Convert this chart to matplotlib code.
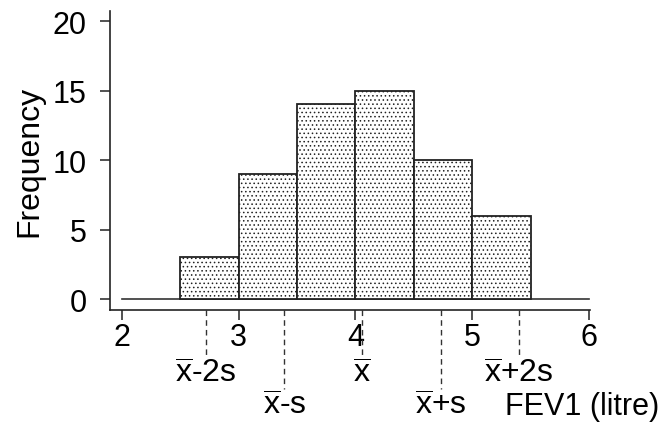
import numpy as np
import matplotlib
matplotlib.use('Agg')
import matplotlib.pyplot as plt
from matplotlib.transforms import blended_transform_factory

plt.rcParams['font.family'] = ['Liberation Sans', 'DejaVu Sans']
plt.rcParams['mathtext.fontset'] = 'custom'
plt.rcParams['mathtext.rm'] = 'Liberation Sans'
plt.rcParams['mathtext.it'] = 'Liberation Sans'
plt.rcParams['hatch.linewidth'] = 0.6
plt.rcParams['hatch.color'] = '#333333'

# --- DATA ---
bin_edges = [2.5, 3.0, 3.5, 4.0, 4.5, 5.0, 5.5]
counts = [3, 9, 14, 15, 10, 6]
mean_fev = 4.06
sd_fev = 0.67
ref_labels = [r'$\overline{\mathrm{x}}$-2s', r'$\overline{\mathrm{x}}$-s', r'$\overline{\mathrm{x}}$',
              r'$\overline{\mathrm{x}}$+s', r'$\overline{\mathrm{x}}$+2s']
ref_mult = [-2, -1, 0, 1, 2]
x_ticks = [2, 3, 4, 5, 6]
y_ticks = [0, 5, 10, 15, 20]

FS = 22

fig = plt.figure(figsize=(6.62, 4.27), dpi=100)
ax = fig.add_axes([110/662, 1 - 311/427, 480/662, 299/427])

widths = np.diff(bin_edges)
ax.bar(bin_edges[:-1], counts, width=widths, align='edge', facecolor='white',
       edgecolor='#222222', linewidth=1.3, hatch='....', zorder=3)
# zero baseline across full range
ax.plot([2, 6], [0, 0], color='#333333', lw=1.2, zorder=2)

ax.set_xlim(1.897, 6.009)
ax.set_ylim(-0.79, 20.72)
ax.spines['top'].set_visible(False)
ax.spines['right'].set_visible(False)
for sp in ['left', 'bottom']:
    ax.spines[sp].set_linewidth(1.2)
    ax.spines[sp].set_color('#222222')

ax.set_xticks(x_ticks)
ax.set_yticks(y_ticks)
ax.tick_params(axis='both', labelsize=FS, length=7, width=1.1, color='#222222')
ax.tick_params(axis='y', pad=10)
ax.tick_params(axis='x', pad=2)
ax.set_ylabel('Frequency', fontsize=FS + 1, labelpad=6)

# mean / sd markers below the axis
trans = blended_transform_factory(ax.transData, ax.transAxes)
for m, lab in zip(ref_mult, ref_labels):
    xv = mean_fev + m * sd_fev
    low = (m % 2 == 1)
    yend = -0.265 if low else -0.157
    ylab = -0.348 if low else -0.241
    ax.plot([xv, xv], [0, yend], transform=trans, clip_on=False,
            color='#333333', lw=1.0, ls=(0, (4, 3)))
    ax.text(xv, ylab, lab, transform=trans, ha='center', va='baseline', fontsize=FS + 1)

ax.text(505 / 662, 1 - 415 / 427, 'FEV1 (litre)', transform=fig.transFigure,
        ha='left', va='baseline', fontsize=FS)

fig.savefig('out.png', dpi=100)
